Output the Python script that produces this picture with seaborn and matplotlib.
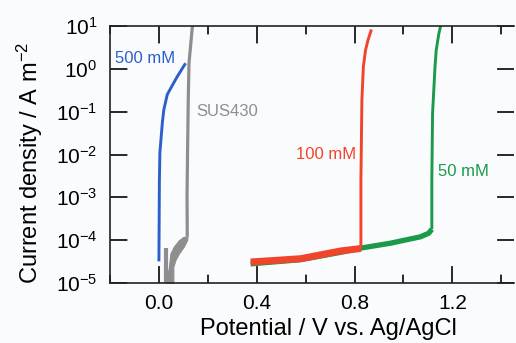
import matplotlib
matplotlib.use("Agg")
import matplotlib.pyplot as plt
import seaborn as sns
import numpy as np
from matplotlib.ticker import MultipleLocator, NullLocator, LogLocator

# ---- data (potential V vs Ag/AgCl, current density A m^-2) ----
blue_E = [0.000, 0.002, 0.004, 0.014, 0.020, 0.034, 0.048, 0.075, 0.109]
blue_j = [3.2e-5, 2.5e-3, 1.1e-2, 5.5e-2, 1.1e-1, 2.5e-1, 3.5e-1, 6.6e-1, 1.35]

# SUS430: noisy band near the bottom (left / right edges at given current levels)
gray_band_j = [1.0e-5, 1.2e-5, 2.4e-5, 3.5e-5, 4.9e-5, 7.1e-5, 1.0e-4, 1.2e-4]
gray_band_left = [0.031, 0.031, 0.041, 0.044, 0.047, 0.061, 0.082, 0.101]
gray_band_right = [0.059, 0.059, 0.059, 0.068, 0.082, 0.102, 0.115, 0.117]
gray_spike_E = [0.027, 0.027]
gray_spike_j = [1.0e-5, 6.6e-5]
gray_rise_E = [0.116, 0.115, 0.117, 0.120, 0.123, 0.137]
gray_rise_j = [1.2e-4, 1e-3, 1e-2, 1.9e-1, 1.35, 10.0]

green_low_E = [0.375, 0.580, 0.743, 0.830, 0.947, 1.070, 1.103, 1.116]
green_low_j = [2.8e-5, 3.5e-5, 5.2e-5, 6.6e-5, 8.5e-5, 1.2e-4, 1.45e-4, 1.8e-4]
green_rise_E = [1.116, 1.116, 1.119, 1.129, 1.134, 1.145, 1.152]
green_rise_j = [1.8e-4, 2.5e-3, 9.1e-2, 1.12, 2.75, 6.8, 10.0]

red_low_E = [0.375, 0.450, 0.580, 0.743, 0.826]
red_low_j = [3.1e-5, 3.3e-5, 3.7e-5, 5.6e-5, 6.4e-5]
red_rise_E = [0.826, 0.826, 0.830, 0.836, 0.845, 0.855, 0.869]
red_rise_j = [6.4e-5, 2.5e-3, 1.86e-1, 1.12, 2.75, 4.7, 8.3]

labels = ["500 mM", "SUS430", "100 mM", "50 mM"]

C_BLUE = "#2b5fc9"
C_GRAY = "#8e8e8e"
C_RED = "#f0452a"
C_GREEN = "#1a9a4a"
AX = "#222222"
BG = "#fafbfd"

sns.set_theme(style="ticks")
plt.rcParams["font.family"] = ["Liberation Sans", "DejaVu Sans"]
plt.rcParams["mathtext.fontset"] = "custom"
plt.rcParams["mathtext.rm"] = "Liberation Sans"
plt.rcParams["mathtext.it"] = "Liberation Sans"

fig = plt.figure(figsize=(5.16, 3.43), dpi=100, facecolor=BG)
ax = fig.add_axes([110/516, 60/343, 404/516, 257/343])
ax.set_facecolor(BG)

def draw(xs, ys, color, lw):
    sns.lineplot(x=xs, y=ys, sort=False, estimator=None, color=color,
                 linewidth=lw, ax=ax, solid_capstyle="butt")

ax.fill_betweenx(gray_band_j, gray_band_left, gray_band_right,
                 color=C_GRAY, linewidth=0.8, edgecolor=C_GRAY)
draw(gray_spike_E, gray_spike_j, C_GRAY, 3.0)
draw(gray_rise_E, gray_rise_j, C_GRAY, 2.3)
draw(blue_E, blue_j, C_BLUE, 2.1)
draw(green_low_E, green_low_j, C_GREEN, 3.8)
draw(green_rise_E, green_rise_j, C_GREEN, 2.1)
draw(red_low_E, red_low_j, C_RED, 5.0)
draw(red_rise_E, red_rise_j, C_RED, 2.1)

ax.set_yscale("log")
ax.set_ylim(1e-5, 10)
ax.set_xlim(-0.2, 1.452)

ax.xaxis.set_major_locator(MultipleLocator(0.4))
ax.xaxis.set_minor_locator(MultipleLocator(0.2))
ax.yaxis.set_major_locator(LogLocator(base=10, numticks=20))
ax.yaxis.set_minor_locator(NullLocator())

# real ticks, inward on all sides
ax.tick_params(which="both", direction="in", top=True, right=True,
               color=AX, width=1.1, labelsize=15, labelcolor="black")
ax.tick_params(axis="x", which="major", length=12, pad=8)
ax.tick_params(axis="x", which="minor", length=6)
ax.tick_params(axis="y", which="major", length=12, pad=9)

# the same inward marks as plain lines, positions from the axis locators
xlo, xhi = ax.get_xlim()
ylo, yhi = ax.get_ylim()
xmaj = [v for v in ax.get_xticks() if xlo <= v <= xhi]
xmin = [v for v in ax.xaxis.get_minorticklocs() if xlo <= v <= xhi]
ymaj = [v for v in ax.get_yticks() if ylo * 0.999 <= v <= yhi * 1.001]
LY_MAJ, LY_MIN = 16.5 / 257, 8.3 / 257
LX_MAJ = 16.5 / 404
xt = ax.get_xaxis_transform()
yt = ax.get_yaxis_transform()
for v in xmaj:
    ax.plot([v, v], [0, LY_MAJ], transform=xt, color=AX, lw=1.1, zorder=5)
    ax.plot([v, v], [1 - LY_MAJ, 1], transform=xt, color=AX, lw=1.1, zorder=5)
for v in xmin:
    ax.plot([v, v], [0, LY_MIN], transform=xt, color=AX, lw=1.1, zorder=5)
    ax.plot([v, v], [1 - LY_MIN, 1], transform=xt, color=AX, lw=1.1, zorder=5)
for v in ymaj:
    ax.plot([0, LX_MAJ], [v, v], transform=yt, color=AX, lw=1.1, zorder=5)
    ax.plot([1 - LX_MAJ, 1], [v, v], transform=yt, color=AX, lw=1.1, zorder=5)
ax.set_xlim(xlo, xhi)
ax.set_ylim(ylo, yhi)

for s in ["left", "bottom", "top"]:
    ax.spines[s].set_color(AX)
    ax.spines[s].set_linewidth(1.2)
ax.spines["right"].set_visible(False)

ax.set_xlabel("Potential / V vs. Ag/AgCl", fontsize=17, color="black")
ax.set_ylabel("Current density / A m$^{-2}$", fontsize=17, color="black")
ax.xaxis.set_label_coords(0.54, -0.135)
ax.yaxis.set_label_coords(-0.16, 0.467)

ax.text(-0.058, 1.7, labels[0], color=C_BLUE, fontsize=12, ha="center", va="center")
ax.text(0.278, 0.1, labels[1], color=C_GRAY, fontsize=12, ha="center", va="center")
ax.text(0.682, 9.8e-3, labels[2], color=C_RED, fontsize=12, ha="center", va="center")
ax.text(1.246, 4.1e-3, labels[3], color=C_GREEN, fontsize=12, ha="center", va="center")

fig.savefig("out.png", dpi=100, facecolor=BG)
